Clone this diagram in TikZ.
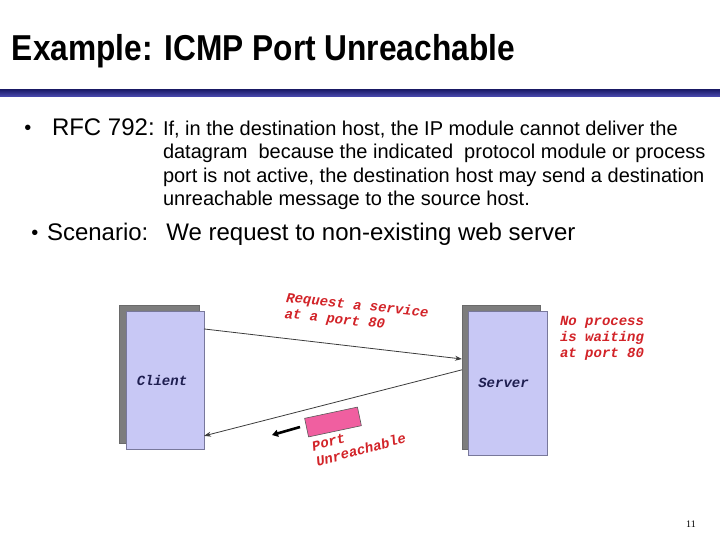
\documentclass[tikz,border=0pt]{standalone}
\usepackage{fontspec}
\setmainfont{Liberation Sans}
\newfontfamily\titlefont[FakeStretch=0.88]{Liberation Sans}
\newfontfamily\codefont{Liberation Mono}
\newfontfamily\numfont{Liberation Serif}
\usetikzlibrary{arrows.meta,calc}
\definecolor{boxfill}{RGB}{200,200,245}
\definecolor{boxline}{RGB}{120,120,155}
\definecolor{shadowgray}{RGB}{125,125,125}
\definecolor{redtext}{RGB}{210,35,40}
\definecolor{navytext}{RGB}{30,30,80}
\definecolor{barnavy}{RGB}{25,25,100}
\definecolor{barblue}{RGB}{70,70,170}
\definecolor{pinkfill}{RGB}{240,95,160}
\definecolor{linegray}{RGB}{60,60,60}
\begin{document}
\begin{tikzpicture}[x=1pt,y=-1pt,
  every node/.style={inner sep=0pt,outer sep=0pt},
  titletext/.style={font=\titlefont\bfseries\fontsize{36}{40}\selectfont,anchor=base west},
  bigtext/.style={font=\fontsize{24}{28}\selectfont,anchor=base west},
  bodytext/.style={font=\fontsize{20}{23.5}\selectfont,anchor=base west},
  bulletmark/.style={font=\fontsize{20}{24}\selectfont,anchor=base},
  hostshadow/.style={fill=shadowgray,draw=shadowgray!85!black,line width=0.5pt},
  hostbox/.style={fill=boxfill,draw=boxline,line width=0.9pt,font=\codefont\bfseries\itshape\fontsize{14}{17}\selectfont,text=navytext},
  redlabel/.style={font=\codefont\bfseries\itshape\fontsize{14}{16}\selectfont,text=redtext,align=left,anchor=north west},
  conn/.style={draw=linegray,line width=0.8pt,-{Stealth[length=7pt,width=5pt]}},
  packet/.style={fill=pinkfill,draw=black!65,line width=0.6pt,minimum width=54pt,minimum height=19pt},
  movearrow/.style={line width=2.6pt,-{Triangle[length=6pt,width=7pt]}}
]
\useasboundingbox (0,0) rectangle (720,539);
% title and bar
\node[titletext] (title) at (12,60) {Example: ICMP Port Unreachable};
\shade[top color=barnavy,bottom color=barblue] (0,89) rectangle (720,96);
% bullet 1
\node[bulletmark] (b1) at (28,134) {\textbullet};
\node[bigtext] (rfc) at (52,135) {RFC 792:};
\node[bodytext] (l1) at (163,135) {If, in the destination host, the IP module cannot deliver the};
\node[bodytext] (l2) at (163,158.5) {datagram\ \ because the indicated\ \ protocol module or process};
\node[bodytext] (l3) at (163,182) {port is not active, the destination host may send a destination};
\node[bodytext] (l4) at (163,205.5) {unreachable message to the source host.};
% bullet 2
\node[bulletmark] (b2) at (35,239) {\textbullet};
\node[bigtext] (scen) at (47,240) {Scenario:\hspace{18pt}We request to non-existing web server};
% hosts
\node[hostshadow,minimum width=80pt,minimum height=138pt] (clientshadow) at (159,374) {};
\node[hostbox,minimum width=78pt,minimum height=138pt] (client) at (165,380) {\hspace{-6pt}Client};
\node[hostshadow,minimum width=78pt,minimum height=144pt] (servershadow) at (501,377) {};
\node[hostbox,minimum width=79pt,minimum height=144pt] (server) at (507.5,383) {\hspace{-8pt}Server};
% connectors
\draw[conn] ($(client.north east)!0.13!(client.south east)$) -- ($(servershadow.north west)!0.375!(servershadow.south west)$);
\draw[conn] ($(servershadow.north west)!0.45!(servershadow.south west)$) -- ($(client.north east)!0.905!(client.south east)$);
% labels
\node[redlabel,rotate=-6] (req) at (287,292) {Request a service\\at a port 80};
\node[redlabel] (noproc) at (560,316) {No process\\is waiting\\at port 80};
% packet
\node[packet,rotate=12] (pkt) at (333,422) {};
\coordinate (mvstart) at (300,427);
\coordinate (mvend) at (272,435);
\draw[movearrow] (mvstart) -- (mvend);
\node[redlabel,rotate=15] (unr) at (311,442) {Port\\Unreachable};
% page number
\node[font=\numfont\fontsize{10}{12}\selectfont,anchor=base] (pg) at (691,527) {11};
\end{tikzpicture}
\end{document}
